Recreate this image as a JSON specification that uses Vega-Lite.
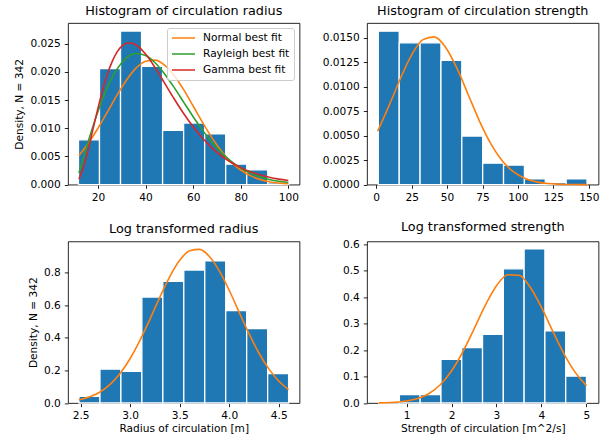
{
  "$schema": "https://vega.github.io/schema/vega-lite/v6.json",
  "padding": {"left": 14, "top": 4, "right": 5, "bottom": 5},
  "background": "white",
  "config": {
    "font": "DejaVu Sans",
    "view": {"stroke": "black", "strokeWidth": 0.85},
    "axis": {"domain": false, "grid": false, "tickColor": "black", "tickSize": 3.7, "tickWidth": 0.85,
             "labelFont": "DejaVu Sans", "labelFontSize": 10.6, "labelColor": "black", "labelPadding": 4,
             "titleFont": "DejaVu Sans", "titleFontSize": 10.6, "titleFontWeight": "normal", "titleColor": "black"},
    "axisX": {"titlePadding": 2},
    "axisY": {"titlePadding": 5.1},
    "title": {"font": "DejaVu Sans", "fontSize": 12.8, "fontWeight": "normal", "color": "black", "baseline": "alphabetic", "offset": 5.4, "anchor": "middle"}
  },
  "datasets": {
    "r_hist": [
      {"x0": 11.8, "x1": 20.64, "density": 0.00796},
      {"x0": 20.64, "x1": 29.48, "density": 0.0206},
      {"x0": 29.48, "x1": 38.32, "density": 0.02726},
      {"x0": 38.32, "x1": 47.16, "density": 0.02102},
      {"x0": 47.16, "x1": 56.0, "density": 0.00962},
      {"x0": 56.0, "x1": 64.84, "density": 0.01093},
      {"x0": 64.84, "x1": 73.68, "density": 0.00903},
      {"x0": 73.68, "x1": 82.52, "density": 0.00362},
      {"x0": 82.52, "x1": 91.36, "density": 0.00261},
      {"x0": 91.36, "x1": 100.2, "density": 0.00033}
    ],
    "r_fit": [
      {"dist": "Normal best fit", "x": 12, "density": 0.00518},
      {"dist": "Normal best fit", "x": 14, "density": 0.00622},
      {"dist": "Normal best fit", "x": 16, "density": 0.00738},
      {"dist": "Normal best fit", "x": 20, "density": 0.01001},
      {"dist": "Normal best fit", "x": 24, "density": 0.01292},
      {"dist": "Normal best fit", "x": 28, "density": 0.01588},
      {"dist": "Normal best fit", "x": 32, "density": 0.01857},
      {"dist": "Normal best fit", "x": 36, "density": 0.02068},
      {"dist": "Normal best fit", "x": 40, "density": 0.02191},
      {"dist": "Normal best fit", "x": 44, "density": 0.0221},
      {"dist": "Normal best fit", "x": 48, "density": 0.02122},
      {"dist": "Normal best fit", "x": 52, "density": 0.01939},
      {"dist": "Normal best fit", "x": 56, "density": 0.01687},
      {"dist": "Normal best fit", "x": 60, "density": 0.01396},
      {"dist": "Normal best fit", "x": 64, "density": 0.011},
      {"dist": "Normal best fit", "x": 68, "density": 0.00825},
      {"dist": "Normal best fit", "x": 72, "density": 0.00589},
      {"dist": "Normal best fit", "x": 76, "density": 0.004},
      {"dist": "Normal best fit", "x": 80, "density": 0.00259},
      {"dist": "Normal best fit", "x": 84, "density": 0.00159},
      {"dist": "Normal best fit", "x": 88, "density": 0.00093},
      {"dist": "Normal best fit", "x": 92, "density": 0.00052},
      {"dist": "Normal best fit", "x": 96, "density": 0.00028},
      {"dist": "Normal best fit", "x": 100, "density": 0.00014},
      {"dist": "Rayleigh best fit", "x": 12, "density": 0.00206},
      {"dist": "Rayleigh best fit", "x": 14, "density": 0.00497},
      {"dist": "Rayleigh best fit", "x": 16, "density": 0.00779},
      {"dist": "Rayleigh best fit", "x": 20, "density": 0.01298},
      {"dist": "Rayleigh best fit", "x": 24, "density": 0.0173},
      {"dist": "Rayleigh best fit", "x": 28, "density": 0.02051},
      {"dist": "Rayleigh best fit", "x": 32, "density": 0.02251},
      {"dist": "Rayleigh best fit", "x": 36, "density": 0.02327},
      {"dist": "Rayleigh best fit", "x": 40, "density": 0.02292},
      {"dist": "Rayleigh best fit", "x": 44, "density": 0.02164},
      {"dist": "Rayleigh best fit", "x": 48, "density": 0.01966},
      {"dist": "Rayleigh best fit", "x": 52, "density": 0.01726},
      {"dist": "Rayleigh best fit", "x": 56, "density": 0.01465},
      {"dist": "Rayleigh best fit", "x": 60, "density": 0.01206},
      {"dist": "Rayleigh best fit", "x": 64, "density": 0.00963},
      {"dist": "Rayleigh best fit", "x": 68, "density": 0.00746},
      {"dist": "Rayleigh best fit", "x": 72, "density": 0.00563},
      {"dist": "Rayleigh best fit", "x": 76, "density": 0.00413},
      {"dist": "Rayleigh best fit", "x": 80, "density": 0.00294},
      {"dist": "Rayleigh best fit", "x": 84, "density": 0.00204},
      {"dist": "Rayleigh best fit", "x": 88, "density": 0.00138},
      {"dist": "Rayleigh best fit", "x": 92, "density": 0.00091},
      {"dist": "Rayleigh best fit", "x": 96, "density": 0.00058},
      {"dist": "Rayleigh best fit", "x": 100, "density": 0.00037},
      {"dist": "Gamma best fit", "x": 12, "density": 0.00098},
      {"dist": "Gamma best fit", "x": 14, "density": 0.00327},
      {"dist": "Gamma best fit", "x": 16, "density": 0.00644},
      {"dist": "Gamma best fit", "x": 18, "density": 0.01002},
      {"dist": "Gamma best fit", "x": 20, "density": 0.01359},
      {"dist": "Gamma best fit", "x": 22, "density": 0.01686},
      {"dist": "Gamma best fit", "x": 24, "density": 0.01967},
      {"dist": "Gamma best fit", "x": 26, "density": 0.02189},
      {"dist": "Gamma best fit", "x": 28, "density": 0.02353},
      {"dist": "Gamma best fit", "x": 30, "density": 0.02458},
      {"dist": "Gamma best fit", "x": 32, "density": 0.02511},
      {"dist": "Gamma best fit", "x": 34, "density": 0.02515},
      {"dist": "Gamma best fit", "x": 36, "density": 0.0248},
      {"dist": "Gamma best fit", "x": 40, "density": 0.02318},
      {"dist": "Gamma best fit", "x": 44, "density": 0.02078},
      {"dist": "Gamma best fit", "x": 48, "density": 0.01803},
      {"dist": "Gamma best fit", "x": 52, "density": 0.01524},
      {"dist": "Gamma best fit", "x": 56, "density": 0.01262},
      {"dist": "Gamma best fit", "x": 60, "density": 0.01026},
      {"dist": "Gamma best fit", "x": 64, "density": 0.00822},
      {"dist": "Gamma best fit", "x": 68, "density": 0.00649},
      {"dist": "Gamma best fit", "x": 72, "density": 0.00508},
      {"dist": "Gamma best fit", "x": 76, "density": 0.00393},
      {"dist": "Gamma best fit", "x": 80, "density": 0.00301},
      {"dist": "Gamma best fit", "x": 84, "density": 0.0023},
      {"dist": "Gamma best fit", "x": 88, "density": 0.00174},
      {"dist": "Gamma best fit", "x": 92, "density": 0.0013},
      {"dist": "Gamma best fit", "x": 96, "density": 0.00097},
      {"dist": "Gamma best fit", "x": 100, "density": 0.00072}
    ],
    "s_hist": [
      {"x0": 1.5, "x1": 16.22, "density": 0.01569},
      {"x0": 16.22, "x1": 30.94, "density": 0.0145},
      {"x0": 30.94, "x1": 45.66, "density": 0.0145},
      {"x0": 45.66, "x1": 60.38, "density": 0.01271},
      {"x0": 60.38, "x1": 75.1, "density": 0.00497},
      {"x0": 75.1, "x1": 89.82, "density": 0.00219},
      {"x0": 89.82, "x1": 104.54, "density": 0.00199},
      {"x0": 104.54, "x1": 119.26, "density": 0.0006},
      {"x0": 119.26, "x1": 133.98, "density": 0.0002},
      {"x0": 133.98, "x1": 148.7, "density": 0.0006}
    ],
    "s_fit": [
      {"x": 1, "density": 0.00546},
      {"x": 9, "density": 0.00805},
      {"x": 17, "density": 0.01083},
      {"x": 25, "density": 0.01327},
      {"x": 33, "density": 0.01483},
      {"x": 41, "density": 0.01511},
      {"x": 49, "density": 0.01403},
      {"x": 57, "density": 0.01188},
      {"x": 65, "density": 0.00917},
      {"x": 73, "density": 0.00645},
      {"x": 81, "density": 0.00414},
      {"x": 89, "density": 0.00242},
      {"x": 97, "density": 0.00129},
      {"x": 105, "density": 0.00063},
      {"x": 113, "density": 0.00028},
      {"x": 121, "density": 0.00011},
      {"x": 129, "density": 0.00004},
      {"x": 137, "density": 0.00001},
      {"x": 145, "density": 0.0},
      {"x": 149, "density": 0.0}
    ],
    "lr_hist": [
      {"x0": 2.483, "x1": 2.6947, "density": 0.0414},
      {"x0": 2.6947, "x1": 2.9064, "density": 0.2072},
      {"x0": 2.9064, "x1": 3.1181, "density": 0.1934},
      {"x0": 3.1181, "x1": 3.3298, "density": 0.6492},
      {"x0": 3.3298, "x1": 3.5415, "density": 0.7459},
      {"x0": 3.5415, "x1": 3.7532, "density": 0.8149},
      {"x0": 3.7532, "x1": 3.9649, "density": 0.8702},
      {"x0": 3.9649, "x1": 4.1766, "density": 0.5663},
      {"x0": 4.1766, "x1": 4.3883, "density": 0.4558},
      {"x0": 4.3883, "x1": 4.6, "density": 0.1796}
    ],
    "lr_fit": [
      {"x": 2.48, "density": 0.0184},
      {"x": 2.6, "density": 0.0392},
      {"x": 2.7, "density": 0.0692},
      {"x": 2.8, "density": 0.1157},
      {"x": 2.9, "density": 0.1826},
      {"x": 3.0, "density": 0.2727},
      {"x": 3.1, "density": 0.385},
      {"x": 3.2, "density": 0.514},
      {"x": 3.3, "density": 0.6488},
      {"x": 3.4, "density": 0.7743},
      {"x": 3.5, "density": 0.8739},
      {"x": 3.6, "density": 0.9326},
      {"x": 3.7, "density": 0.941},
      {"x": 3.8, "density": 0.8977},
      {"x": 3.9, "density": 0.8098},
      {"x": 4.0, "density": 0.6908},
      {"x": 4.1, "density": 0.5571},
      {"x": 4.2, "density": 0.4249},
      {"x": 4.3, "density": 0.3064},
      {"x": 4.4, "density": 0.2089},
      {"x": 4.5, "density": 0.1347},
      {"x": 4.6, "density": 0.0821}
    ],
    "ls_hist": [
      {"x0": 0.38, "x1": 0.842, "density": 0.0063},
      {"x0": 0.842, "x1": 1.304, "density": 0.0317},
      {"x0": 1.304, "x1": 1.766, "density": 0.0317},
      {"x0": 1.766, "x1": 2.228, "density": 0.1646},
      {"x0": 2.228, "x1": 2.69, "density": 0.2089},
      {"x0": 2.69, "x1": 3.152, "density": 0.2595},
      {"x0": 3.152, "x1": 3.614, "density": 0.5063},
      {"x0": 3.614, "x1": 4.076, "density": 0.5823},
      {"x0": 4.076, "x1": 4.538, "density": 0.2722},
      {"x0": 4.538, "x1": 5.0, "density": 0.1013}
    ],
    "ls_fit": [
      {"x": 0.38, "density": 0.0006},
      {"x": 0.5, "density": 0.001},
      {"x": 0.75, "density": 0.0029},
      {"x": 1.0, "density": 0.0074},
      {"x": 1.25, "density": 0.0171},
      {"x": 1.5, "density": 0.036},
      {"x": 1.75, "density": 0.0691},
      {"x": 2.0, "density": 0.1209},
      {"x": 2.25, "density": 0.1925},
      {"x": 2.5, "density": 0.2791},
      {"x": 2.75, "density": 0.3684},
      {"x": 3.0, "density": 0.4426},
      {"x": 3.25, "density": 0.4842},
      {"x": 3.5, "density": 0.4822},
      {"x": 3.75, "density": 0.4371},
      {"x": 4.0, "density": 0.3608},
      {"x": 4.25, "density": 0.2712},
      {"x": 4.5, "density": 0.1855},
      {"x": 4.75, "density": 0.1156},
      {"x": 5.0, "density": 0.0655}
    ]
  },
  "columns": 2,
  "bounds": "flush",
  "spacing": {"row": 56.4, "column": 67},
  "resolve": {"scale": {"color": "independent"}, "legend": {"color": "independent"}},
  "concat": [
    {
      "width": 231.5, "height": 161.6,
      "title": "Histogram of circulation radius",
      "layer": [
        {
          "data": {"name": "r_hist"},
          "mark": {"type": "rect", "fill": "#1f77b4", "stroke": "white", "strokeWidth": 1.3},
          "encoding": {
            "x": {"field": "x0", "type": "quantitative", "scale": {"domain": [7.4, 104.7], "nice": false, "zero": false}, "axis": {"values": [20, 40, 60, 80, 100], "title": null}},
            "x2": {"field": "x1"},
            "y": {"field": "density", "type": "quantitative", "scale": {"domain": [0, 0.0287], "nice": false}, "axis": {"values": [0, 0.005, 0.01, 0.015, 0.02, 0.025], "format": ".3f", "title": "Density, N = 342"}},
            "y2": {"datum": 0}
          }
        },
        {
          "data": {"name": "r_fit"},
          "mark": {"type": "line", "strokeWidth": 1.6, "interpolate": "monotone"},
          "encoding": {
            "x": {"field": "x", "type": "quantitative", "axis": {"values": [20, 40, 60, 80, 100], "title": null}},
            "y": {"field": "density", "type": "quantitative", "axis": {"values": [0, 0.005, 0.01, 0.015, 0.02, 0.025], "format": ".3f", "title": "Density, N = 342"}},
            "color": {"field": "dist", "type": "nominal",
              "scale": {"domain": ["Normal best fit", "Rayleigh best fit", "Gamma best fit"], "range": ["#ff7f0e", "#2ca02c", "#d62728"]},
              "legend": {"title": null, "orient": "top-right", "offset": 5.3, "symbolType": "stroke", "symbolSize": 530, "symbolStrokeWidth": 1.6,
                "labelFont": "DejaVu Sans", "labelFontSize": 10.6, "labelColor": "black", "labelOffset": 7, "clipHeight": 12, "rowPadding": 4,
                "padding": 4, "strokeColor": "#cccccc", "fillColor": "rgba(255,255,255,0.8)", "cornerRadius": 2.5}
            }
          }
        }
      ]
    },
    {
      "width": 231.5, "height": 161.6,
      "title": "Histogram of circulation strength",
      "layer": [
        {
          "data": {"name": "s_hist"},
          "mark": {"type": "rect", "fill": "#1f77b4", "stroke": "white", "strokeWidth": 1.3},
          "encoding": {
            "x": {"field": "x0", "type": "quantitative", "scale": {"domain": [-6.5, 156.8], "nice": false, "zero": false}, "axis": {"values": [0, 25, 50, 75, 100, 125, 150], "title": null}},
            "x2": {"field": "x1"},
            "y": {"field": "density", "type": "quantitative", "scale": {"domain": [0, 0.01653], "nice": false}, "axis": {"values": [0, 0.0025, 0.005, 0.0075, 0.01, 0.0125, 0.015], "format": ".4f", "title": null}},
            "y2": {"datum": 0}
          }
        },
        {
          "data": {"name": "s_fit"},
          "mark": {"type": "line", "strokeWidth": 1.6, "interpolate": "monotone", "color": "#ff7f0e"},
          "encoding": {
            "x": {"field": "x", "type": "quantitative", "axis": {"values": [0, 25, 50, 75, 100, 125, 150], "title": null}},
            "y": {"field": "density", "type": "quantitative", "axis": {"values": [0, 0.0025, 0.005, 0.0075, 0.01, 0.0125, 0.015], "format": ".4f", "title": null}}
          }
        }
      ]
    },
    {
      "width": 231.5, "height": 161.6,
      "title": "Log transformed radius",
      "layer": [
        {
          "data": {"name": "lr_hist"},
          "mark": {"type": "rect", "fill": "#1f77b4", "stroke": "white", "strokeWidth": 1.3},
          "encoding": {
            "x": {"field": "x0", "type": "quantitative", "scale": {"domain": [2.372, 4.71], "nice": false, "zero": false}, "axis": {"values": [2.5, 3, 3.5, 4, 4.5], "format": ".1f", "title": "Radius of circulation [m]"}},
            "x2": {"field": "x1"},
            "y": {"field": "density", "type": "quantitative", "scale": {"domain": [0, 0.99], "nice": false}, "axis": {"values": [0, 0.2, 0.4, 0.6, 0.8], "format": ".1f", "title": "Density, N = 342"}},
            "y2": {"datum": 0}
          }
        },
        {
          "data": {"name": "lr_fit"},
          "mark": {"type": "line", "strokeWidth": 1.6, "interpolate": "monotone", "color": "#ff7f0e"},
          "encoding": {
            "x": {"field": "x", "type": "quantitative", "axis": {"values": [2.5, 3, 3.5, 4, 4.5], "format": ".1f", "title": "Radius of circulation [m]"}},
            "y": {"field": "density", "type": "quantitative", "axis": {"values": [0, 0.2, 0.4, 0.6, 0.8], "format": ".1f", "title": "Density, N = 342"}}
          }
        }
      ]
    },
    {
      "width": 231.5, "height": 161.6,
      "title": "Log transformed strength",
      "layer": [
        {
          "data": {"name": "ls_hist"},
          "mark": {"type": "rect", "fill": "#1f77b4", "stroke": "white", "strokeWidth": 1.3},
          "encoding": {
            "x": {"field": "x0", "type": "quantitative", "scale": {"domain": [0.122, 5.267], "nice": false, "zero": false}, "axis": {"values": [1, 2, 3, 4, 5], "title": "Strength of circulation [m^2/s]"}},
            "x2": {"field": "x1"},
            "y": {"field": "density", "type": "quantitative", "scale": {"domain": [0, 0.61], "nice": false}, "axis": {"values": [0, 0.1, 0.2, 0.3, 0.4, 0.5, 0.6], "format": ".1f", "title": null}},
            "y2": {"datum": 0}
          }
        },
        {
          "data": {"name": "ls_fit"},
          "mark": {"type": "line", "strokeWidth": 1.6, "interpolate": "monotone", "color": "#ff7f0e"},
          "encoding": {
            "x": {"field": "x", "type": "quantitative", "axis": {"values": [1, 2, 3, 4, 5], "title": "Strength of circulation [m^2/s]"}},
            "y": {"field": "density", "type": "quantitative", "axis": {"values": [0, 0.1, 0.2, 0.3, 0.4, 0.5, 0.6], "format": ".1f", "title": null}}
          }
        }
      ]
    }
  ]
}
